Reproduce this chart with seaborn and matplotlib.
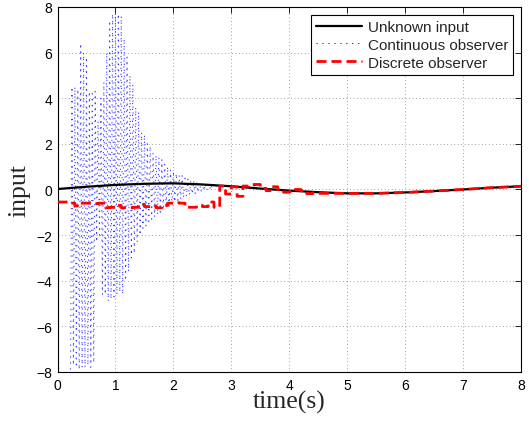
import numpy as np
import pandas as pd
import matplotlib
matplotlib.use("Agg")
import matplotlib.pyplot as plt
import seaborn as sns

# ---------------- data ----------------
# Unknown input (smooth signal)
unknown_time = [0.0, 0.5, 1.0, 1.5, 2.0, 2.5, 3.0, 3.5, 4.0, 4.5, 5.0, 5.5, 6.0, 6.5, 7.0, 7.5, 8.0]
unknown_value = [0.02, 0.12, 0.20, 0.25, 0.27, 0.22, 0.14, 0.04, -0.05, -0.12, -0.17, -0.17, -0.13, -0.07, 0.0, 0.08, 0.14]

# Continuous observer: fast oscillation, upper peaks at t = 0, 0.05, ..., 3.0
cont_upper_time = [round(0.05 * i, 3) for i in range(61)]
cont_upper = [0.0, -10, -10, -10, -9, 4.5, 4.5, 4.4, 6.4, 6.0,
              5.8, 4.3, 4.2, 4.3, 3.0, 4.0, 4.7, 6.0, 7.4, 7.7,
              8.0, 7.7, 7.6, 6.6, 5.8, 5.0, 4.6, 3.6, 3.4, 2.5,
              2.4, 2.0, 1.9, 1.6, 1.5, 1.4, 1.3, 1.1, 1.0, 0.85,
              0.8, 0.7, 0.62, 0.6, 0.5, 0.45, 0.4, 0.38, 0.32, 0.3,
              0.26, 0.25, 0.22, 0.22, 0.2, 0.2, 0.19, 0.18, 0.17, 0.16,
              0.15]
# lower troughs at t = 0.025, 0.075, ..., 2.975
cont_lower_time = [round(0.025 + 0.05 * i, 3) for i in range(60)]
cont_lower = [-10, -10, -10, -10, -7.8, -7.7, -7.8, -7.9, -7.8, -7.8,
              -7.7, -7.8, -7.6, -2.3, -2.0, -4.6, -4.6, -4.9, -4.8, -4.7,
              -4.6, -4.5, -4.6, -4.0, -3.6, -3.0, -2.8, -2.3, -2.0, -1.7,
              -1.6, -1.4, -1.3, -1.2, -1.1, -1.0, -0.9, -0.8, -0.73, -0.65,
              -0.55, -0.48, -0.42, -0.36, -0.3, -0.25, -0.2, -0.17, -0.13, -0.1,
              -0.06, -0.04, 0.0, 0.03, 0.06, 0.09, 0.11, 0.12, 0.13, 0.14]

# Discrete observer: sampled (held) values every 0.1 s up to 4.5 s
disc_time = [round(0.1 * i, 2) for i in range(46)]
disc_value = [-0.55, -0.55, -0.6, -0.72, -0.6, -0.6, -0.62, -0.6, -0.8, -0.78,
              -0.7, -0.8, -0.8, -0.78, -0.65, -0.75, -0.72, -0.8, -0.7, -0.6,
              -0.58, -0.6, -0.78, -0.78, -0.7, -0.75, -0.55, -0.78, 0.15, -0.2,
              0.12, -0.3, 0.15, 0.2, 0.22, 0.05, -0.05, 0.12, 0.0, -0.12,
              -0.1, 0.0, -0.05, -0.18, -0.15, -0.17]

# ---------------- build plotting tables ----------------
ct = []
cv = []
for i in range(len(cont_upper_time)):
    ct.append(cont_upper_time[i]); cv.append(cont_upper[i])
    if i < len(cont_lower_time):
        ct.append(cont_lower_time[i]); cv.append(cont_lower[i])
for t, v in zip(unknown_time, unknown_value):
    if t > 3.0:
        ct.append(t); cv.append(v)
cont_df = pd.DataFrame({"t": ct, "v": cv})

dt, dv = [], []
for i in range(len(disc_time)):
    dt.append(disc_time[i]); dv.append(disc_value[i])
    if i + 1 < len(disc_time):
        dt.append(disc_time[i + 1]); dv.append(disc_value[i])
for t, v in zip(unknown_time, unknown_value):
    if t > 4.5:
        dt.append(t); dv.append(v)
disc_df = pd.DataFrame({"t": dt, "v": dv})
unk_df = pd.DataFrame({"t": unknown_time, "v": unknown_value})

# ---------------- plotting ----------------
sns.set_style("white")
plt.rcParams["font.family"] = ["Liberation Sans", "DejaVu Sans"]

fig = plt.figure(figsize=(5.29, 4.27), dpi=100)
ax = fig.add_axes([0.1087, 0.1265, 0.8763, 0.8548])

sns.lineplot(data=unk_df, x="t", y="v", ax=ax, color="black", lw=1.6,
             sort=False, estimator=None, label="Unknown input", zorder=3)
sns.lineplot(data=cont_df, x="t", y="v", ax=ax, color="#1a1aff", lw=0.75,
             linestyle=(0, (1.2, 4.5)), alpha=0.85, sort=False, estimator=None,
             label="Continuous observer", zorder=2)
sns.lineplot(data=disc_df, x="t", y="v", ax=ax, color="#ff0000", lw=2.0,
             linestyle=(0, (3.6, 1.8)), sort=False, estimator=None,
             label="Discrete observer", zorder=4)

ax.set_xlim(0, 8)
ax.set_ylim(-8, 8)
ax.set_xticks(range(0, 9))
ax.set_yticks(range(-8, 9, 2))
ax.grid(True, color="black", linestyle=(0, (1, 4)), linewidth=0.5, alpha=0.7)
for s in ax.spines.values():
    s.set_color("black")
    s.set_linewidth(0.8)
ax.tick_params(direction="in", length=4, width=0.6, top=True, right=True,
               labelsize=10, pad=4, colors="black")

ax.set_xlabel("time(s)", family=["Liberation Serif"], fontsize=18.5, labelpad=-1)
ax.set_ylabel("input", family=["Liberation Serif"], fontsize=18.5, labelpad=4)

leg = ax.legend(loc="upper right", bbox_to_anchor=(1, 1), borderaxespad=0.5,
                fontsize=11, handlelength=3.0, handletextpad=0.35,
                borderpad=0.35, labelspacing=0.25, fancybox=False,
                framealpha=1, edgecolor="black")
leg.get_frame().set_linewidth(0.8)
for line in leg.get_lines():
    line.set_alpha(1)

fig.savefig("out.png", dpi=100)
